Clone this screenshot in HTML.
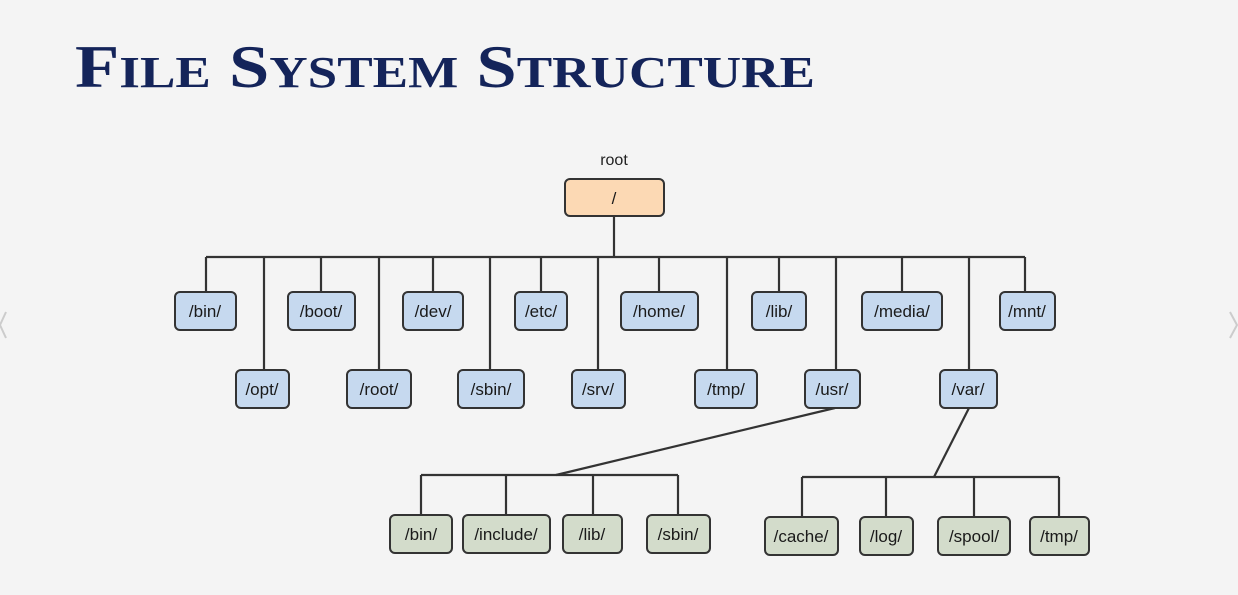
<!DOCTYPE html>
<html><head><meta charset="utf-8"><style>
html,body{margin:0;padding:0;background:#f4f4f4;}
svg{display:block;}
</style></head><body>
<svg width="1238" height="595" viewBox="0 0 1238 595" xmlns="http://www.w3.org/2000/svg">
<rect width="1238" height="595" fill="#f4f4f4"/>
<text x="75" y="87" font-family="Liberation Serif, serif" font-weight="bold" font-size="60" fill="#14245a" textLength="740" lengthAdjust="spacingAndGlyphs">F<tspan font-size="44">ILE</tspan> S<tspan font-size="44">YSTEM</tspan> S<tspan font-size="44">TRUCTURE</tspan></text>
<g stroke="#333" stroke-width="2.2" fill="none">
<line x1="614" y1="216" x2="614" y2="257"/>
<line x1="206" y1="257" x2="1025" y2="257"/>
<line x1="206" y1="257" x2="206" y2="292"/>
<line x1="321" y1="257" x2="321" y2="292"/>
<line x1="433" y1="257" x2="433" y2="292"/>
<line x1="541" y1="257" x2="541" y2="292"/>
<line x1="659" y1="257" x2="659" y2="292"/>
<line x1="779" y1="257" x2="779" y2="292"/>
<line x1="902" y1="257" x2="902" y2="292"/>
<line x1="1025" y1="257" x2="1025" y2="292"/>
<line x1="264" y1="257" x2="264" y2="370"/>
<line x1="379" y1="257" x2="379" y2="370"/>
<line x1="490" y1="257" x2="490" y2="370"/>
<line x1="598" y1="257" x2="598" y2="370"/>
<line x1="727" y1="257" x2="727" y2="370"/>
<line x1="836" y1="257" x2="836" y2="370"/>
<line x1="969" y1="257" x2="969" y2="370"/>
<line x1="835" y1="408" x2="556" y2="475"/>
<line x1="421" y1="475" x2="678" y2="475"/>
<line x1="421" y1="475" x2="421" y2="515"/>
<line x1="506" y1="475" x2="506" y2="515"/>
<line x1="593" y1="475" x2="593" y2="515"/>
<line x1="678" y1="475" x2="678" y2="515"/>
<line x1="969" y1="408" x2="934" y2="477"/>
<line x1="802" y1="477" x2="1059" y2="477"/>
<line x1="802" y1="477" x2="802" y2="517"/>
<line x1="886" y1="477" x2="886" y2="517"/>
<line x1="974" y1="477" x2="974" y2="517"/>
<line x1="1059" y1="477" x2="1059" y2="517"/>
</g>
<text x="614" y="165" text-anchor="middle" font-family="Liberation Sans, sans-serif" font-size="16" fill="#222">root</text>
<g stroke="#333" stroke-width="2" font-family="Liberation Sans, sans-serif" font-size="17" text-anchor="middle">
<rect x="565" y="179" width="99" height="37" rx="5" fill="#fcd9b4"/>
<g fill="#c6d9ef">
<rect x="175" y="292" width="61" height="38" rx="5"/>
<rect x="288" y="292" width="67" height="38" rx="5"/>
<rect x="403" y="292" width="60" height="38" rx="5"/>
<rect x="515" y="292" width="52" height="38" rx="5"/>
<rect x="621" y="292" width="77" height="38" rx="5"/>
<rect x="752" y="292" width="54" height="38" rx="5"/>
<rect x="862" y="292" width="80" height="38" rx="5"/>
<rect x="1000" y="292" width="55" height="38" rx="5"/>
<rect x="236" y="370" width="53" height="38" rx="5"/>
<rect x="347" y="370" width="64" height="38" rx="5"/>
<rect x="458" y="370" width="66" height="38" rx="5"/>
<rect x="572" y="370" width="53" height="38" rx="5"/>
<rect x="695" y="370" width="62" height="38" rx="5"/>
<rect x="805" y="370" width="55" height="38" rx="5"/>
<rect x="940" y="370" width="57" height="38" rx="5"/>
</g>
<g fill="#d3dccb">
<rect x="390" y="515" width="62" height="38" rx="5"/>
<rect x="463" y="515" width="87" height="38" rx="5"/>
<rect x="563" y="515" width="59" height="38" rx="5"/>
<rect x="647" y="515" width="63" height="38" rx="5"/>
<rect x="765" y="517" width="73" height="38" rx="5"/>
<rect x="860" y="517" width="53" height="38" rx="5"/>
<rect x="938" y="517" width="72" height="38" rx="5"/>
<rect x="1030" y="517" width="59" height="38" rx="5"/>
</g>
<g fill="#1a1a1a" stroke="none">
<text x="614" y="204">/</text>
<text x="205" y="317">/bin/</text>
<text x="321" y="317">/boot/</text>
<text x="433" y="317">/dev/</text>
<text x="541" y="317">/etc/</text>
<text x="659" y="317">/home/</text>
<text x="779" y="317">/lib/</text>
<text x="902" y="317">/media/</text>
<text x="1027" y="317">/mnt/</text>
<text x="262" y="395">/opt/</text>
<text x="379" y="395">/root/</text>
<text x="491" y="395">/sbin/</text>
<text x="598" y="395">/srv/</text>
<text x="726" y="395">/tmp/</text>
<text x="832" y="395">/usr/</text>
<text x="968" y="395">/var/</text>
<text x="421" y="540">/bin/</text>
<text x="506" y="540">/include/</text>
<text x="592" y="540">/lib/</text>
<text x="678" y="540">/sbin/</text>
<text x="801" y="542">/cache/</text>
<text x="886" y="542">/log/</text>
<text x="974" y="542">/spool/</text>
<text x="1059" y="542">/tmp/</text>
</g>
</g>
<g stroke="#ccc" stroke-width="2" fill="none">
<polyline points="6,312 0,325 6,338"/>
<polyline points="1230,312 1237,325 1230,338"/>
</g>
</svg>
</body></html>
